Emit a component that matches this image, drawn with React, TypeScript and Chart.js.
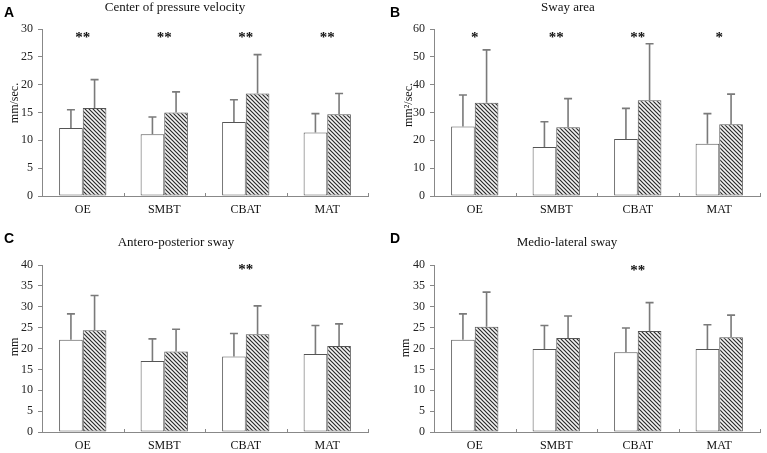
import React, { useEffect, useRef } from "react";
import { Chart, registerables } from "chart.js";

Chart.register(...registerables);

const categories = ["OE", "SMBT", "CBAT", "MAT"];

// Panel A: Center of pressure velocity (mm/sec.)
const velocityPre = [12.2, 11.1, 13.3, 11.4];
const velocityPreSd = [3.3, 3.1, 4.0, 3.4];
const velocityPost = [15.8, 15.0, 18.4, 14.7];
const velocityPostSd = [5.1, 3.7, 7.0, 3.7];
const velocityStars = ["**", "**", "**", "**"];

// Panel B: Sway area (mm²/sec.)
const areaPre = [25.0, 17.6, 20.5, 18.8];
const areaPreSd = [11.3, 9.1, 11.0, 10.8];
const areaPost = [33.5, 24.7, 34.4, 25.8];
const areaPostSd = [19.0, 10.3, 20.3, 10.8];
const areaStars = ["*", "**", "**", "*"];

// Panel C: Antero-posterior sway (mm)
const apPre = [22.1, 17.0, 18.1, 18.7];
const apPreSd = [6.2, 5.3, 5.5, 6.8];
const apPost = [24.4, 19.3, 23.4, 20.6];
const apPostSd = [8.3, 5.3, 6.8, 5.3];
const apStars = ["", "", "**", ""];

// Panel D: Medio-lateral sway (mm)
const mlPre = [22.1, 19.9, 19.1, 19.9];
const mlPreSd = [6.2, 5.6, 5.8, 5.8];
const mlPost = [25.2, 22.5, 24.2, 22.7];
const mlPostSd = [8.3, 5.3, 6.8, 5.3];
const mlStars = ["", "", "**", ""];

const yTicksA = { max: 30, step: 5 };
const yTicksB = { max: 60, step: 10 };
const yTicksCD = { max: 40, step: 5 };

const SERIF = '"Liberation Serif", "Times New Roman", serif';
const SANS = '"Liberation Sans", Arial, sans-serif';

function makeHatch(): CanvasPattern | string {
  const c = document.createElement("canvas");
  c.width = 4;
  c.height = 4;
  const g = c.getContext("2d");
  if (!g) return "#999";
  g.fillStyle = "#f4f4f4";
  g.fillRect(0, 0, 4, 4);
  g.strokeStyle = "#2a2a2a";
  g.lineWidth = 1.2;
  g.beginPath();
  g.moveTo(-1, -1);
  g.lineTo(5, 5);
  g.moveTo(-1, 3);
  g.lineTo(1, 5);
  g.moveTo(3, -1);
  g.lineTo(5, 1);
  g.stroke();
  return g.createPattern(c, "repeat") || "#999";
}

type Geo = {
  left: number;
  top: number;
  width: number;
  height: number;
  yAxisWidth: number;
  xAxisHeight: number;
  padTop: number;
  padRight: number;
  titleX: number;
  titleY: number;
  letterX: number;
  letterY: number;
  yTitleX: number;
  yTitleY: number;
  starOffset: number;
};

type PanelProps = {
  letter: string;
  title: string;
  yTitle: string;
  yMax: number;
  yStep: number;
  pre: number[];
  preSd: number[];
  post: number[];
  postSd: number[];
  stars: string[];
  geo: Geo;
};

function Panel(props: PanelProps) {
  const ref = useRef<HTMLCanvasElement | null>(null);
  useEffect(() => {
    const canvas = ref.current;
    if (!canvas) return;
    const { geo } = props;
    const sds = [props.preSd, props.postSd];
    const overlay = {
      id: "overlay",
      afterDatasetsDraw(chart: any) {
        const ctx = chart.ctx;
        const ys = chart.scales.y;
        ctx.save();
        ctx.strokeStyle = "#7a7a7a";
        ctx.lineWidth = 1.6;
        for (let di = 0; di < 2; di++) {
          const meta = chart.getDatasetMeta(di);
          meta.data.forEach((el: any, i: number) => {
            const mean = chart.data.datasets[di].data[i] as number;
            const top = ys.getPixelForValue(mean + sds[di][i]);
            ctx.beginPath();
            ctx.moveTo(el.x, el.y);
            ctx.lineTo(el.x, top);
            ctx.moveTo(el.x - 4, top);
            ctx.lineTo(el.x + 4, top);
            ctx.stroke();
          });
        }
        ctx.restore();
      },
      afterDraw(chart: any) {
        const ctx = chart.ctx;
        const xs = chart.scales.x;
        const area = chart.chartArea;
        ctx.save();
        // category boundary ticks on x axis
        ctx.strokeStyle = "#888";
        ctx.lineWidth = 1;
        const n = props.pre.length;
        for (let i = 0; i <= n; i++) {
          const px = Math.round(xs.left + (i * xs.width) / n) + 0.5;
          ctx.beginPath();
          ctx.moveTo(px, area.bottom);
          ctx.lineTo(px, area.bottom - 3);
          ctx.stroke();
        }
        // title
        ctx.fillStyle = "#111";
        ctx.font = `13px ${SERIF}`;
        ctx.textAlign = "center";
        ctx.textBaseline = "middle";
        ctx.fillText(props.title, geo.titleX, geo.titleY);
        // panel letter
        ctx.font = `bold 14px ${SANS}`;
        ctx.textAlign = "left";
        ctx.fillStyle = "#000";
        ctx.fillText(props.letter, geo.letterX, geo.letterY);
        // y title
        ctx.save();
        ctx.translate(geo.yTitleX, geo.yTitleY);
        ctx.rotate(-Math.PI / 2);
        ctx.font = `12px ${SERIF}`;
        ctx.textAlign = "center";
        ctx.fillStyle = "#111";
        ctx.fillText(props.yTitle, 0, 0);
        ctx.restore();
        // significance stars
        ctx.font = `bold 15px ${SERIF}`;
        ctx.textAlign = "center";
        ctx.textBaseline = "middle";
        ctx.fillStyle = "#111";
        props.stars.forEach((s, i) => {
          if (!s) return;
          const px = xs.getPixelForValue(i);
          ctx.fillText(s, px, area.top + geo.starOffset);
        });
        ctx.restore();
      },
    };
    const hatch = makeHatch();
    const chart = new Chart(canvas, {
      type: "bar",
      data: {
        labels: categories,
        datasets: [
          {
            data: props.pre,
            backgroundColor: "#ffffff",
            borderColor: "#555555",
            borderWidth: 1,
            borderSkipped: false,
            categoryPercentage: 0.58,
            barPercentage: 1.0,
          },
          {
            data: props.post,
            backgroundColor: hatch as any,
            borderColor: "#555555",
            borderWidth: 1,
            borderSkipped: false,
            categoryPercentage: 0.58,
            barPercentage: 1.0,
          },
        ],
      },
      options: {
        responsive: false,
        animation: false,
        layout: {
          padding: { top: geo.padTop, right: geo.padRight, left: 0, bottom: 0 },
        },
        plugins: {
          legend: { display: false },
          tooltip: { enabled: false },
          title: { display: false },
        },
        scales: {
          x: {
            type: "category",
            grid: { display: false, drawTicks: false },
            border: { display: true, color: "#888", width: 1 },
            ticks: {
              font: { family: SERIF, size: 12 },
              color: "#111",
              padding: 7,
              maxRotation: 0,
            },
            afterFit(s: any) {
              s.height = geo.xAxisHeight;
            },
          },
          y: {
            min: 0,
            max: props.yMax,
            ticks: {
              stepSize: props.yStep,
              font: { family: SERIF, size: 12 },
              color: "#222",
              padding: 5,
            },
            grid: {
              drawOnChartArea: false,
              drawTicks: true,
              tickLength: 4,
              color: "#888",
            },
            border: { display: true, color: "#888", width: 1 },
            afterFit(s: any) {
              s.width = geo.yAxisWidth;
            },
          },
        },
      } as any,
      plugins: [overlay],
    });
    return () => chart.destroy();
  }, []);
  const { geo } = props;
  return (
    <canvas
      ref={ref}
      width={geo.width}
      height={geo.height}
      style={{
        position: "absolute",
        left: geo.left,
        top: geo.top,
        width: geo.width,
        height: geo.height,
      }}
    />
  );
}

const geoA: Geo = {
  left: 0, top: 0, width: 383, height: 226,
  yAxisWidth: 42, xAxisHeight: 30, padTop: 29, padRight: 15,
  titleX: 175, titleY: 8, letterX: 4, letterY: 13, yTitleX: 15, yTitleY: 103, starOffset: 9,
};
const geoB: Geo = {
  left: 384, top: 0, width: 383, height: 226,
  yAxisWidth: 50, xAxisHeight: 30, padTop: 29, padRight: 7,
  titleX: 184, titleY: 8, letterX: 6, letterY: 13, yTitleX: 25, yTitleY: 105, starOffset: 9,
};
const geoC: Geo = {
  left: 0, top: 226, width: 384, height: 227,
  yAxisWidth: 42, xAxisHeight: 21, padTop: 39, padRight: 16,
  titleX: 176, titleY: 17, letterX: 4, letterY: 13, yTitleX: 15, yTitleY: 121, starOffset: 5,
};
const geoD: Geo = {
  left: 384, top: 226, width: 383, height: 227,
  yAxisWidth: 50, xAxisHeight: 21, padTop: 39, padRight: 7,
  titleX: 183, titleY: 17, letterX: 6, letterY: 13, yTitleX: 22, yTitleY: 122, starOffset: 6,
};

export default function App() {
  return (
    <div
      style={{
        position: "fixed",
        left: 0,
        top: 0,
        width: 767,
        height: 453,
        background: "#ffffff",
        overflow: "hidden",
      }}
    >
      <Panel letter="A" title="Center of pressure velocity" yTitle="mm/sec."
        yMax={yTicksA.max} yStep={yTicksA.step}
        pre={velocityPre} preSd={velocityPreSd} post={velocityPost} postSd={velocityPostSd}
        stars={velocityStars} geo={geoA} />
      <Panel letter="B" title="Sway area" yTitle="mm²/sec."
        yMax={yTicksB.max} yStep={yTicksB.step}
        pre={areaPre} preSd={areaPreSd} post={areaPost} postSd={areaPostSd}
        stars={areaStars} geo={geoB} />
      <Panel letter="C" title="Antero-posterior sway" yTitle="mm"
        yMax={yTicksCD.max} yStep={yTicksCD.step}
        pre={apPre} preSd={apPreSd} post={apPost} postSd={apPostSd}
        stars={apStars} geo={geoC} />
      <Panel letter="D" title="Medio-lateral sway" yTitle="mm"
        yMax={yTicksCD.max} yStep={yTicksCD.step}
        pre={mlPre} preSd={mlPreSd} post={mlPost} postSd={mlPostSd}
        stars={mlStars} geo={geoD} />
    </div>
  );
}
